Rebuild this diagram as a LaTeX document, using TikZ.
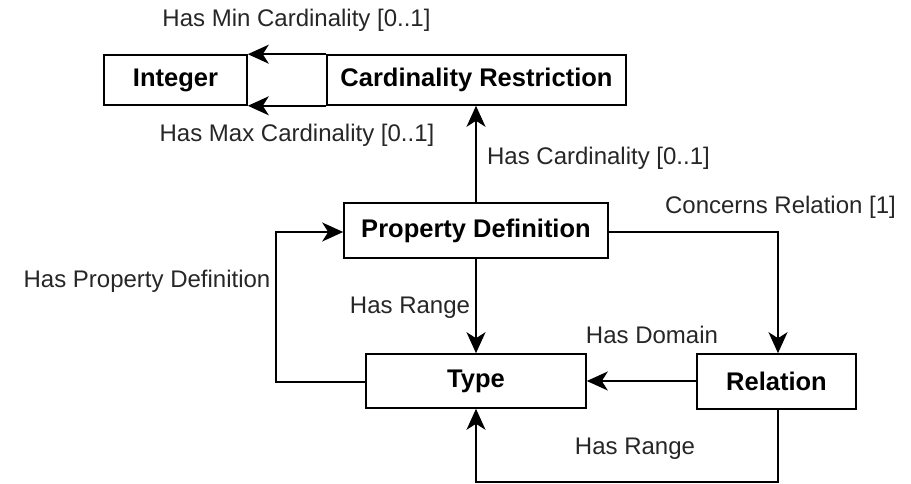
\documentclass[tikz,border=0pt]{standalone}
\usepackage{fontspec}
\setmainfont{Liberation Sans}
\usetikzlibrary{arrows.meta}
\begin{document}
\begin{tikzpicture}[x=1pt,y=-1pt,
  box/.style={draw=black,line width=1.6pt,fill=white,inner sep=0pt,
    font=\fontsize{25.5}{28}\selectfont\bfseries},
  lbl/.style={inner sep=0pt,font=\fontsize{24}{26}\selectfont,text=black!85},
  conn/.style={line width=1.6pt,-{Stealth[length=21pt,width=19pt,inset=6pt]}}]
\useasboundingbox (0,0) rectangle (911,484);
% nodes
\node[box,minimum width=143pt,minimum height=50pt] (int) at (175.5,80) {Integer};
\node[box,minimum width=299pt,minimum height=50pt] (cr) at (476.5,80) {Cardinality Restriction};
\node[box,minimum width=264pt,minimum height=55pt] (pd) at (476,230.5) {Property Definition};
\node[box,minimum width=220pt,minimum height=54pt] (type) at (476,381) {Type};
\node[box,minimum width=159pt,minimum height=55pt] (rel) at (776.5,381.5) {Relation};
% corner coordinates
\coordinate (c1) at (778,232);
\coordinate (c2) at (276,382);
\coordinate (c3) at (276,232);
\coordinate (c4) at (778,482);
\coordinate (c5) at (476,482);
% connectors
\draw[conn] (cr.north west) -- (int.north east);
\draw[conn] (cr.south west) -- (int.south east);
\draw[conn] (pd.north) -- (cr.south -| pd.north);
\draw[conn] (pd.south) -- (type.north);
\draw[conn] (pd.east |- c1) -- (c1) -- (rel.north -| c1);
\draw[conn] (type.west |- c2) -- (c2) -- (c3) -- (pd.west |- c3);
\draw[conn] (rel.west |- type.east) -- (type.east);
\draw[conn] (rel.south -| c4) -- (c4) -- (c5) -- (type.south);
% labels
\node[lbl] (l1) at (296.5,20) {Has Min Cardinality [0..1]};
\node[lbl] (l2) at (297,135) {Has Max Cardinality [0..1]};
\node[lbl] (l3) at (598.5,158) {Has Cardinality [0..1]};
\node[lbl] (l4) at (780.5,207) {Concerns Relation [1]};
\node[lbl] (l5) at (147,281) {Has Property Definition};
\node[lbl] (l6) at (410,308) {Has Range};
\node[lbl] (l7) at (652,335) {Has Domain};
\node[lbl] (l8) at (635,449) {Has Range};
\end{tikzpicture}
\end{document}
